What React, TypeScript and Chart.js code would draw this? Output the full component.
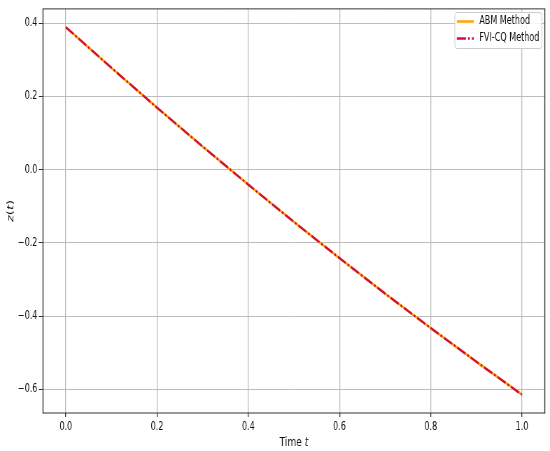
import React, { useEffect, useRef } from 'react';
import { Chart, registerables } from 'chart.js';

Chart.register(...registerables);

// ---- data ----
const timeT = [0, 0.1, 0.2, 0.3, 0.4, 0.5, 0.6, 0.7, 0.8, 0.9, 1.0];
const abmValues = [0.389, 0.278, 0.169, 0.063, -0.041, -0.143, -0.242, -0.339, -0.433, -0.525, -0.615];
const fviValues = [0.389, 0.278, 0.169, 0.063, -0.041, -0.143, -0.242, -0.339, -0.433, -0.525, -0.615];
const seriesLabels = ['ABM Method', 'FVI-CQ Method'];
const xTickValues = [0, 0.2, 0.4, 0.6, 0.8, 1.0];
const yTickValues = [-0.6, -0.4, -0.2, 0, 0.2, 0.4];
const xLimits = [-0.05, 1.05];
const yLimits = [-0.665, 0.439];

// ---- layout (the reference is squeezed horizontally) ----
const CSS_W = 550;
const CSS_H = 451;
const SX = 1 / 0.7;
const IW = Math.round(CSS_W * SX);
const FONT = '"DejaVu Sans", sans-serif';
const ORANGE = '#FFA500';
const CRIMSON = '#D0103A';
const DASHDOT = [13, 3, 2.5, 3];

const fmt = (v: number) => {
  const s = Math.abs(v).toFixed(1);
  return v < -1e-9 ? '\u2212' + s : s;
};

const decorPlugin = {
  id: 'decor',
  afterDatasetsDraw(chart: any) {
    const { ctx, chartArea: a } = chart;
    ctx.save();
    ctx.strokeStyle = '#333';
    ctx.lineWidth = 1.4;
    ctx.beginPath();
    ctx.moveTo(a.left, a.top - 0.5);
    ctx.lineTo(a.left, a.bottom + 0.5);
    ctx.moveTo(a.right, a.top - 0.5);
    ctx.lineTo(a.right, a.bottom + 0.5);
    ctx.stroke();
    ctx.lineWidth = 1;
    ctx.beginPath();
    ctx.moveTo(a.left, a.top);
    ctx.lineTo(a.right, a.top);
    ctx.moveTo(a.left, a.bottom);
    ctx.lineTo(a.right, a.bottom);
    ctx.stroke();
    ctx.restore();
  },
  afterDraw(chart: any) {
    const { ctx, chartArea: a } = chart;
    ctx.save();
    // legend box
    const bx = 455 * SX, by = 12.5, bw = (542 - 455) * SX, bh = 36;
    ctx.fillStyle = 'rgba(255,255,255,0.85)';
    ctx.strokeStyle = '#cccccc';
    ctx.lineWidth = 1;
    ctx.beginPath();
    ctx.roundRect(bx, by, bw, bh, 3);
    ctx.fill();
    ctx.stroke();
    const rows = [
      { label: seriesLabels[0], color: ORANGE, dash: [] as number[], y: 21.5, w: 2.5 },
      { label: seriesLabels[1], color: CRIMSON, dash: DASHDOT, y: 38.5, w: 2.4 },
    ];
    for (const r of rows) {
      ctx.strokeStyle = r.color;
      ctx.lineWidth = r.w;
      ctx.setLineDash(r.dash);
      ctx.beginPath();
      ctx.moveTo(457 * SX, r.y);
      ctx.lineTo(474 * SX, r.y);
      ctx.stroke();
      ctx.setLineDash([]);
      ctx.fillStyle = '#111';
      ctx.font = `11.5px ${FONT}`;
      ctx.textBaseline = 'middle';
      ctx.textAlign = 'left';
      ctx.fillText(r.label, 479.5 * SX, r.y);
    }
    // x title: "Time t"
    const normal = `13px ${FONT}`;
    const italic = `italic 13px ${FONT}`;
    ctx.fillStyle = '#111';
    ctx.textBaseline = 'middle';
    ctx.textAlign = 'left';
    ctx.font = normal;
    const w1 = ctx.measureText('Time ').width;
    ctx.font = italic;
    const w2 = ctx.measureText('t').width;
    const cx = (a.left + a.right) / 2;
    const ty = 443;
    let x = cx - (w1 + w2) / 2;
    ctx.font = normal;
    ctx.fillText('Time ', x, ty);
    ctx.font = italic;
    ctx.fillText('t', x + w1, ty);
    // y title: z(t)
    const parts = [
      { t: 'z', f: italic },
      { t: '(', f: normal },
      { t: 't', f: italic },
      { t: ')', f: normal },
    ];
    let total = 0;
    const widths = parts.map((p) => {
      ctx.font = p.f;
      const w = ctx.measureText(p.t).width;
      total += w;
      return w;
    });
    ctx.translate(11 * SX, (a.top + a.bottom) / 2);
    ctx.rotate(-Math.PI / 2);
    x = -total / 2;
    parts.forEach((p, i) => {
      ctx.font = p.f;
      ctx.fillText(p.t, x, 0);
      x += widths[i];
    });
    ctx.restore();
  },
};

export default function App() {
  const ref = useRef<HTMLCanvasElement | null>(null);

  useEffect(() => {
    if (!ref.current) return;
    const chart = new Chart(ref.current, {
      type: 'line',
      data: {
        datasets: [
          {
            label: seriesLabels[0],
            data: timeT.map((t, i) => ({ x: t, y: abmValues[i] })),
            borderColor: ORANGE,
            borderWidth: 2.6,
            pointRadius: 0,
            tension: 0,
            order: 2,
          },
          {
            label: seriesLabels[1],
            data: timeT.map((t, i) => ({ x: t, y: fviValues[i] })),
            borderColor: CRIMSON,
            borderWidth: 2.4,
            borderDash: DASHDOT,
            pointRadius: 0,
            tension: 0,
            order: 1,
          },
        ],
      },
      options: {
        responsive: false,
        animation: false,
        devicePixelRatio: 1,
        layout: { padding: { left: 0, top: 7, right: IW - 545 * SX, bottom: 0 } },
        plugins: { legend: { display: false }, tooltip: { enabled: false } },
        scales: {
          x: {
            type: 'linear',
            min: xLimits[0],
            max: xLimits[1],
            afterBuildTicks: (s: any) => {
              s.ticks = xTickValues.map((v) => ({ value: v }));
            },
            afterFit: (s: any) => {
              s.height = CSS_H - 413;
            },
            ticks: {
              callback: (v: any) => fmt(Number(v)),
              font: { family: FONT, size: 11.5 },
              color: '#111',
              padding: 3,
              maxRotation: 0,
              autoSkip: false,
            },
            grid: { color: '#bdbdbd', lineWidth: 1.3, tickLength: 4, tickColor: '#333', tickWidth: 1.3 },
            border: { display: false },
          },
          y: {
            type: 'linear',
            min: yLimits[0],
            max: yLimits[1],
            afterBuildTicks: (s: any) => {
              s.ticks = yTickValues.map((v) => ({ value: v }));
            },
            afterFit: (s: any) => {
              s.width = 43 * SX;
            },
            ticks: {
              callback: (v: any) => fmt(Number(v)),
              font: { family: FONT, size: 11.5 },
              color: '#111',
              padding: 2,
              autoSkip: false,
            },
            grid: { color: '#bdbdbd', lineWidth: 1, tickLength: 6, tickColor: '#333', tickWidth: 1 },
            border: { display: false },
          },
        },
      },
      plugins: [decorPlugin],
    } as any);
    return () => chart.destroy();
  }, []);

  return (
    <div style={{ position: 'fixed', left: 0, top: 0, width: CSS_W, height: CSS_H, background: '#fff' }}>
      <canvas
        ref={ref}
        width={IW}
        height={CSS_H}
        style={{ width: `${CSS_W}px`, height: `${CSS_H}px`, display: 'block' }}
      />
    </div>
  );
}
